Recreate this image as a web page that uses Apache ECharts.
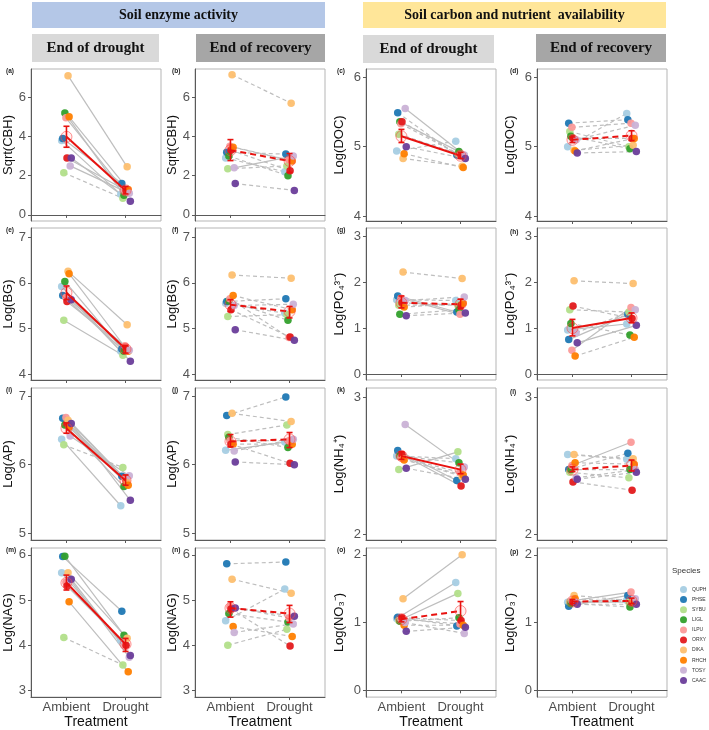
<!DOCTYPE html>
<html>
<head>
<meta charset="utf-8">
<script src="https://cdn.jsdelivr.net/npm/echarts@6/dist/echarts.min.js"></script>
<style>
html, body { margin: 0; padding: 0; background: #fff; }
#chart { width: 709px; height: 730px; }
</style>
</head>
<body>
<div id="chart"></div>
<script>
const species = ["QUPH", "PHSE", "SYBU", "LIGL", "ILPU", "ORXY", "DIKA", "RHCH", "TOSY", "CAAC"];
const speciesColors = ["#a6cee3", "#1f78b4", "#b2df8a", "#33a02c", "#fb9a99", "#e31a1c", "#fdbf6f", "#ff7f00", "#cab2d6", "#6a3d9a"];
const treatments = ["Ambient", "Drought"];

// y tick labels per variable
const ticksCBH = [0, 2, 4, 6];
const ticksDOC = [4, 5, 6];
const ticksBG = [4, 5, 6, 7];
const ticksPO4 = [0, 1, 2, 3];
const ticksAP = [5, 6, 7];
const ticksNH4 = [2, 3];
const ticksNAG = [3, 4, 5, 6];
const ticksNO3 = [0, 1, 2];

// species values (order as in species[]), line type per species (s = solid, d = dashed),
// treatment means and error-bar limits [ambient, drought]
const aAmb = [3.8, 3.9, 2.15, 5.2, 4.95, 2.9, 7.1, 5.0, 2.5, 2.9];
const aDro = [1.05, 1.6, 0.85, 1.0, 1.2, 1.25, 2.45, 1.3, 1.1, 0.7];
const aLine = "ssdsssssss";
const aMean = [3.98, 1.25], aLow = [3.45, 1.07], aHigh = [4.52, 1.45];

const bAmb = [2.9, 3.2, 2.35, 3.0, 3.5, 3.3, 7.15, 3.45, 2.4, 1.6];
const bDro = [2.2, 3.1, 2.5, 2.0, 2.8, 2.25, 5.7, 2.75, 3.0, 1.25];
const bLine = "ddddddddsd";
const bMean = [3.3, 2.75], bLow = [2.77, 2.17], bHigh = [3.84, 3.13];

const cAmb = [4.94, 5.49, 5.18, 5.36, 5.33, 5.36, 4.83, 4.9, 5.55, 5.0];
const cDro = [5.08, 4.88, 4.9, 4.93, 4.88, 4.87, 4.72, 4.7, 4.88, 4.83];
const cLine = "dddsddddsd";
const cMean = [5.15, 4.87], cLow = [5.06, 4.83], cHigh = [5.25, 4.92];

const dAmb = [5.0, 5.34, 5.22, 5.15, 5.28, 5.12, 4.95, 4.94, 5.1, 4.91];
const dDro = [5.48, 5.39, 5.0, 4.97, 5.34, 5.12, 5.02, 5.12, 5.31, 4.93];
const dLine = "dddddddddd";
const dMean = [5.1, 5.16], dLow = [5.06, 5.09], dHigh = [5.14, 5.23];

const eAmb = [5.92, 5.72, 5.18, 6.03, 5.68, 5.59, 6.25, 6.2, 5.65, 5.63];
const eDro = [4.5, 4.55, 4.41, 4.5, 4.62, 4.55, 5.08, 4.5, 4.52, 4.28];
const eLine = "ssssssssss";
const eMean = [5.78, 4.55], eLow = [5.63, 4.46], eHigh = [5.93, 4.63];

const fAmb = [5.55, 5.59, 5.26, 5.6, 5.65, 5.41, 6.17, 5.72, 5.5, 4.97];
const fDro = [5.33, 5.65, 5.3, 5.18, 4.8, 4.81, 6.1, 5.41, 5.53, 4.74];
const fLine = "dddddddddd";
const fMean = [5.52, 5.37], fLow = [5.37, 5.23], fHigh = [5.63, 5.48];

const gAmb = [1.62, 1.7, 1.5, 1.3, 1.65, 1.55, 2.22, 1.46, 1.6, 1.27];
const gDro = [1.6, 1.35, 1.5, 1.4, 1.3, 1.5, 2.08, 1.54, 1.68, 1.33];
const gLine = "dsddsddddd";
const gMean = [1.55, 1.52], gLow = [1.44, 1.42], gHigh = [1.7, 1.63];

const hAmb = [0.96, 0.75, 1.4, 1.1, 0.52, 1.48, 2.03, 0.39, 0.9, 0.68];
const hDro = [1.09, 1.3, 1.35, 0.85, 1.45, 1.21, 1.97, 0.8, 1.4, 1.06];
const hLine = "ssddsdddds";
const hMean = [1.0, 1.22], hLow = [0.83, 1.12], hHigh = [1.19, 1.33];

const iAmb = [6.37, 6.68, 6.29, 6.58, 6.69, 6.6, 6.65, 6.55, 6.42, 6.6];
const iDro = [5.4, 5.83, 5.96, 5.68, 5.8, 5.75, 5.75, 5.7, 5.84, 5.48];
const iLine = "ssdsssssss";
const iMean = [6.53, 5.77], iLow = [6.46, 5.7], iHigh = [6.61, 5.85];

const jAmb = [6.21, 6.72, 6.44, 6.4, 6.35, 6.3, 6.75, 6.3, 6.2, 6.04];
const jDro = [6.33, 6.99, 6.58, 6.25, 6.35, 6.02, 6.63, 6.3, 6.37, 6.0];
const jLine = "sddddddddd";
const jMean = [6.34, 6.37], jLow = [6.26, 6.25], jHigh = [6.44, 6.47];

const kAmb = [2.57, 2.61, 2.47, 2.57, 2.56, 2.58, 2.55, 2.54, 2.80, 2.48];
const kDro = [2.55, 2.39, 2.6, 2.52, 2.45, 2.35, 2.42, 2.43, 2.49, 2.40];
const kLine = "dssddsddsd";
const kMean = [2.57, 2.47], kLow = [2.545, 2.44], kHigh = [2.6, 2.51];

const lAmb = [2.58, 2.47, 2.45, 2.47, 2.5, 2.38, 2.58, 2.52, 2.41, 2.4];
const lDro = [2.545, 2.59, 2.41, 2.47, 2.67, 2.32, 2.55, 2.51, 2.47, 2.45];
const lLine = "ddddsddddd";
const lMean = [2.47, 2.5], lLow = [2.455, 2.46], lHigh = [2.49, 2.54];

const mAmb = [5.6, 5.96, 4.17, 5.97, 5.4, 5.31, 5.6, 4.96, 5.45, 5.46];
const mDro = [4.1, 4.75, 3.56, 4.22, 4.0, 4.0, 4.15, 3.41, 3.73, 3.77];
const mLine = "ssdsssssss";
const mMean = [5.38, 4.02], mLow = [5.22, 3.86], mHigh = [5.55, 4.15];

const nAmb = [4.54, 5.8, 4.0, 4.7, 4.85, 4.8, 5.46, 4.41, 4.28, 4.82];
const nDro = [5.24, 5.84, 4.35, 4.51, 4.6, 3.98, 5.15, 4.19, 4.47, 4.64];
const nLine = "dddddddddd";
const nMean = [4.82, 4.7], nLow = [4.62, 4.5], nHigh = [4.96, 4.88];

const oAmb = [1.06, 1.08, 1.03, 1.02, 1.05, 1.07, 1.35, 0.96, 1.0, 0.87];
const oDro = [1.59, 0.95, 1.43, 1.07, 0.98, 1.03, 2.0, 0.96, 0.84, 0.93];
const oLine = "sdsdddsddd";
const oMean = [1.05, 1.17], oLow = [1.01, 1.03], oHigh = [1.09, 1.31];

const pAmb = [1.3, 1.24, 1.3, 1.28, 1.32, 1.3, 1.4, 1.35, 1.3, 1.27];
const pDro = [1.33, 1.4, 1.3, 1.23, 1.45, 1.3, 1.32, 1.3, 1.35, 1.27];
const pLine = "dsddsddddd";
const pMean = [1.31, 1.32], pLow = [1.28, 1.28], pHigh = [1.34, 1.36];

// layout
const colLeft = [31, 195, 366, 537];
const rowTop = [69, 228, 388, 548];
const panelW = 130, panelH = 152;
const nameGaps = [14, 14, 20, 20];

const panels = [
  {tag: "(a)", amb: aAmb, dro: aDro, lt: aLine, mean: aMean, lo: aLow, hi: aHigh, sig: true, name: "Sqrt(CBH)", ticks: ticksCBH, min: -0.31, max: 7.44},
  {tag: "(b)", amb: bAmb, dro: bDro, lt: bLine, mean: bMean, lo: bLow, hi: bHigh, sig: false, name: "Sqrt(CBH)", ticks: ticksCBH, min: -0.31, max: 7.44},
  {tag: "(c)", amb: cAmb, dro: cDro, lt: cLine, mean: cMean, lo: cLow, hi: cHigh, sig: true, name: "Log(DOC)", ticks: ticksDOC, min: 3.93, max: 6.12},
  {tag: "(d)", amb: dAmb, dro: dDro, lt: dLine, mean: dMean, lo: dLow, hi: dHigh, sig: false, name: "Log(DOC)", ticks: ticksDOC, min: 3.93, max: 6.12},
  {tag: "(e)", amb: eAmb, dro: eDro, lt: eLine, mean: eMean, lo: eLow, hi: eHigh, sig: true, name: "Log(BG)", ticks: ticksBG, min: 3.87, max: 7.2},
  {tag: "(f)", amb: fAmb, dro: fDro, lt: fLine, mean: fMean, lo: fLow, hi: fHigh, sig: false, name: "Log(BG)", ticks: ticksBG, min: 3.87, max: 7.2},
  {tag: "(g)", amb: gAmb, dro: gDro, lt: gLine, mean: gMean, lo: gLow, hi: gHigh, sig: false, name: "Log(PO\u2084\u00b3\u207b)", ticks: ticksPO4, min: -0.13, max: 3.18},
  {tag: "(h)", amb: hAmb, dro: hDro, lt: hLine, mean: hMean, lo: hLow, hi: hHigh, sig: true, name: "Log(PO\u2084\u00b3\u207b)", ticks: ticksPO4, min: -0.13, max: 3.18},
  {tag: "(i)", amb: iAmb, dro: iDro, lt: iLine, mean: iMean, lo: iLow, hi: iHigh, sig: true, name: "Log(AP)", ticks: ticksAP, min: 4.9, max: 7.12},
  {tag: "(j)", amb: jAmb, dro: jDro, lt: jLine, mean: jMean, lo: jLow, hi: jHigh, sig: false, name: "Log(AP)", ticks: ticksAP, min: 4.9, max: 7.12},
  {tag: "(k)", amb: kAmb, dro: kDro, lt: kLine, mean: kMean, lo: kLow, hi: kHigh, sig: true, name: "Log(NH\u2084\u207a)", ticks: ticksNH4, min: 1.956, max: 3.066},
  {tag: "(l)", amb: lAmb, dro: lDro, lt: lLine, mean: lMean, lo: lLow, hi: lHigh, sig: false, name: "Log(NH\u2084\u207a)", ticks: ticksNH4, min: 1.956, max: 3.066},
  {tag: "(m)", amb: mAmb, dro: mDro, lt: mLine, mean: mMean, lo: mLow, hi: mHigh, sig: true, name: "Log(NAG)", ticks: ticksNAG, min: 2.85, max: 6.15},
  {tag: "(n)", amb: nAmb, dro: nDro, lt: nLine, mean: nMean, lo: nLow, hi: nHigh, sig: false, name: "Log(NAG)", ticks: ticksNAG, min: 2.85, max: 6.15},
  {tag: "(o)", amb: oAmb, dro: oDro, lt: oLine, mean: oMean, lo: oLow, hi: oHigh, sig: false, name: "Log(NO\u2083\u207b)", ticks: ticksNO3, min: -0.1, max: 2.1},
  {tag: "(p)", amb: pAmb, dro: pDro, lt: pLine, mean: pMean, lo: pLow, hi: pHigh, sig: false, name: "Log(NO\u2083\u207b)", ticks: ticksNO3, min: -0.1, max: 2.1}
];

const font = "Liberation Sans";
const red = "#e8120f";
let grids = [], xAxes = [], yAxes = [], series = [], graphics = [];

panels.forEach((p, k) => {
  const col = k % 4, row = Math.floor(k / 4);
  grids.push({
    left: colLeft[col], top: rowTop[row], width: panelW, height: panelH,
    show: true, borderColor: "#b5b5b5", borderWidth: 1, backgroundColor: "#fff"
  });
  xAxes.push({
    type: "value", gridIndex: k, min: 0.4, max: 2.6,
    axisLine: {show: true, lineStyle: {color: "#5a5a5a", width: 1}},
    axisTick: {show: true, customValues: [1, 2], length: 3, lineStyle: {color: "#5a5a5a"}},
    axisLabel: {
      show: row === 3, customValues: [1, 2], margin: 4,
      formatter: v => treatments[Math.round(v) - 1] || "",
      color: "#4d4d4d", fontSize: 13, fontFamily: font
    },
    splitLine: {show: false},
    name: row === 3 ? "Treatment" : "", nameLocation: "middle", nameGap: 17,
    nameTextStyle: {color: "#111", fontSize: 14, fontFamily: font}
  });
  yAxes.push({
    type: "value", gridIndex: k, min: p.min, max: p.max,
    axisLine: {show: true, lineStyle: {color: "#5a5a5a", width: 1}},
    axisTick: {show: true, customValues: p.ticks, length: 3, lineStyle: {color: "#5a5a5a"}},
    axisLabel: {customValues: p.ticks, margin: 5, color: "#555", fontSize: 13, fontFamily: font},
    splitLine: {show: false},
    name: p.name, nameLocation: "middle", nameGap: nameGaps[col],
    nameTextStyle: {color: "#111", fontSize: 13, fontFamily: font}
  });

  species.forEach((sp, i) => {
    const dx = (i - 4.5) * 0.018;
    const pts = [[1 + dx, p.amb[i]], [2 + dx, p.dro[i]]];
    series.push({
      type: "line", xAxisIndex: k, yAxisIndex: k, data: pts, symbol: "none", silent: true, z: 1,
      lineStyle: {color: "#bebebe", width: 1.2, type: p.lt[i] === "s" ? "solid" : [4, 3]}
    });
    series.push({
      name: sp, type: "scatter", xAxisIndex: k, yAxisIndex: k, data: pts, symbolSize: 7.5, z: 2,
      itemStyle: {color: speciesColors[i], opacity: 0.95}
    });
  });

  series.push({
    type: "line", xAxisIndex: k, yAxisIndex: k, z: 4,
    data: [[1, p.mean[0]], [2, p.mean[1]]],
    lineStyle: {color: red, width: 2, type: p.sig ? "solid" : [6, 4]},
    symbol: "circle", symbolSize: 11,
    itemStyle: {color: "rgba(255,0,0,0.06)", borderColor: "rgba(255,70,70,0.6)", borderWidth: 1}
  });
  series.push({
    type: "custom", xAxisIndex: k, yAxisIndex: k, z: 5,
    data: [[1, p.lo[0], p.hi[0]], [2, p.lo[1], p.hi[1]]],
    encode: {x: 0, y: [1, 2]},
    renderItem: (params, api) => {
      const top = api.coord([api.value(0), api.value(2)]);
      const bot = api.coord([api.value(0), api.value(1)]);
      const w = 3;
      const st = {stroke: red, lineWidth: 1.6};
      return {
        type: "group", children: [
          {type: "line", shape: {x1: top[0], y1: top[1], x2: bot[0], y2: bot[1]}, style: st},
          {type: "line", shape: {x1: top[0] - w, y1: top[1], x2: top[0] + w, y2: top[1]}, style: st},
          {type: "line", shape: {x1: bot[0] - w, y1: bot[1], x2: bot[0] + w, y2: bot[1]}, style: st}
        ]
      };
    }
  });

  const tagX = [6, 172, 337, 510][col];
  graphics.push({
    type: "text", left: tagX, top: rowTop[row] + (col === 3 && row > 0 ? 1 : -1),
    style: {text: p.tag, font: "bold 6.5px " + font, fill: "#222"}
  });
});

// header boxes
function header(x, y, w, h, fill, text, size) {
  graphics.push({type: "rect", shape: {x: x, y: y, width: w, height: h}, style: {fill: fill}, z: 0});
  graphics.push({
    type: "text", x: x + w / 2, y: y + h / 2,
    style: {text: text, font: "bold " + size + "px 'Liberation Serif'", fill: "#111", align: "center", verticalAlign: "middle"}
  });
}
header(32, 2, 293, 26, "#b4c7e7", "Soil enzyme activity", 14);
header(363, 2, 303, 26, "#ffe699", "Soil carbon and nutrient  availability", 14);
header(32, 34, 127, 28, "#d9d9d9", "End of drought", 15);
header(196, 34, 129, 28, "#a6a6a6", "End of recovery", 15);
header(363, 35, 131, 28, "#d9d9d9", "End of drought", 15);
header(536, 34, 130, 28, "#a6a6a6", "End of recovery", 15);

graphics.push({
  type: "text", left: 672, top: 567,
  style: {text: "Species", font: "8px " + font, fill: "#333"}
});

const chart = echarts.init(document.getElementById("chart"), null, {renderer: "canvas"});
chart.setOption({
  backgroundColor: "#fff",
  animation: false,
  grid: grids,
  xAxis: xAxes,
  yAxis: yAxes,
  legend: {
    data: species.map(s => ({name: s, icon: "circle"})),
    orient: "vertical", left: 675, top: 581,
    itemWidth: 7, itemHeight: 7, itemGap: 3.1,
    selectedMode: false,
    textStyle: {fontSize: 5, color: "#333", fontFamily: font}
  },
  graphic: graphics,
  series: series
});
window.addEventListener("resize", () => chart.resize());
</script>
</body>
</html>
